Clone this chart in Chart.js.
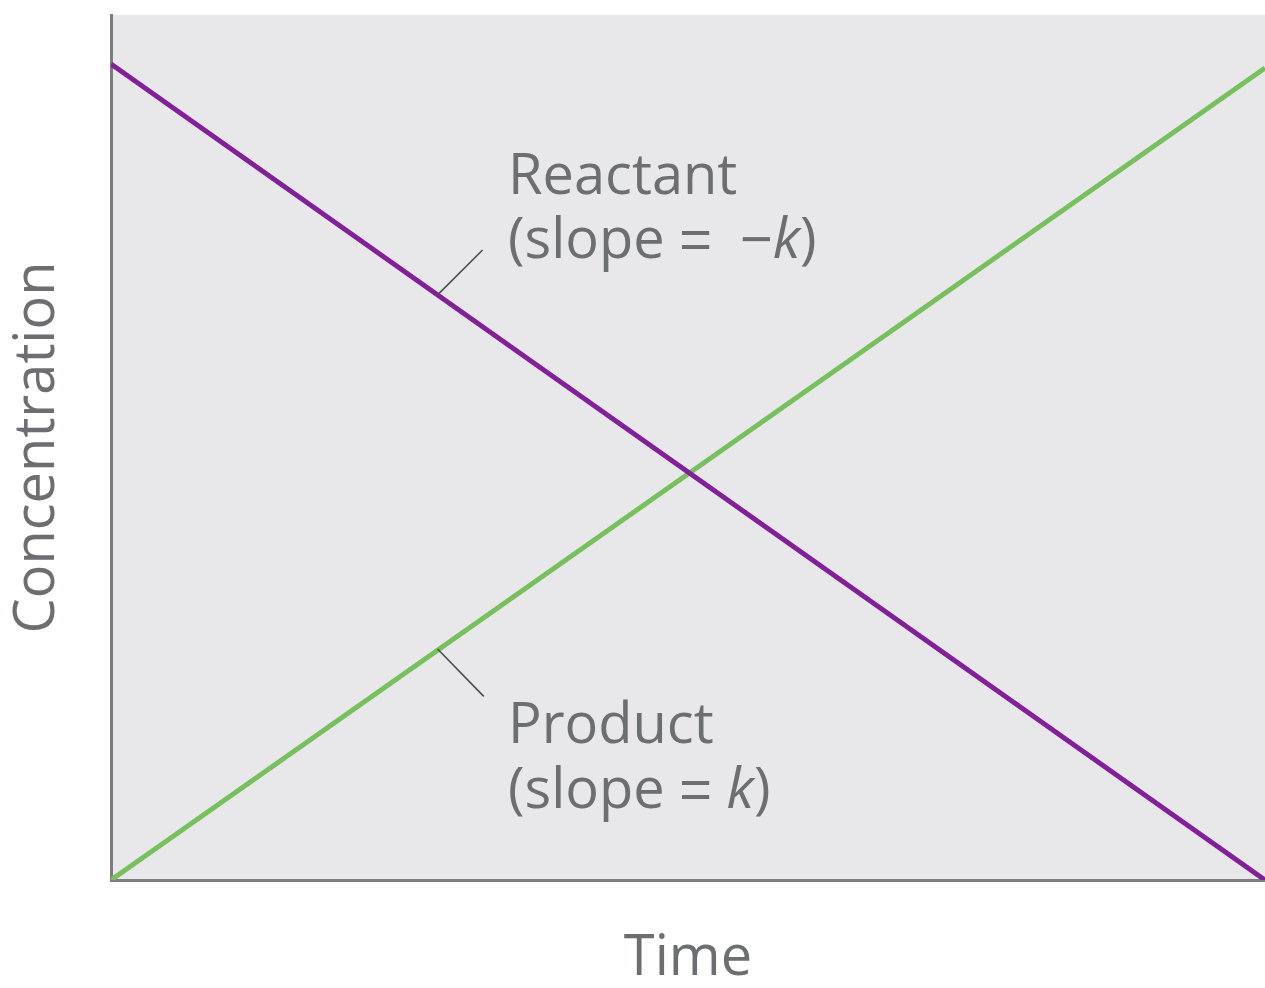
<!DOCTYPE html>
<html>
<head>
<meta charset="utf-8">
<script src="https://cdn.jsdelivr.net/npm/chart.js@4"></script>
<style>
  html, body { margin: 0; padding: 0; background: #fff; }
  #wrap { width: 1265px; height: 988px; }
</style>
</head>
<body>
<div id="wrap"><canvas id="rateChart"></canvas></div>
<script>
// Zero-order reaction: concentration vs time
const timePoints = [0, 10];
const reactantValues = [10, 0];
const productValues = [0, 9.95];
const yMax = 10.6;

const textColor = "#6d6e71";
const fontFamily = "'Open Sans', 'Noto Sans', sans-serif";
const mathFamily = "'Liberation Sans', sans-serif";
const labelSize = 56;

// Callouts, placed in data units. run style: "" normal, "i" italic, "m" math symbol
const callouts = [
  {
    lines: [[["Reactant", ""]], [["(slope ", ""], ["=", "m"], ["\u2002", ""], ["\u2212", "m"], ["k", "i"], [")", ""]]],
    x: 3.44, y: [8.41, 7.62],
    leader: [[2.83, 7.17], [3.22, 7.72]],
  },
  {
    lines: [[["Product", ""]], [["(slope ", ""], ["=", "m"], [" ", ""], ["k", "i"], [")", ""]]],
    x: 3.44, y: [1.68, 0.88],
    leader: [[2.83, 2.83], [3.23, 2.25]],
  },
];

const plotBackground = {
  id: "plotBackground",
  beforeDraw(chart) {
    const { ctx, chartArea } = chart;
    ctx.save();
    ctx.fillStyle = "#e8e8ea";
    ctx.fillRect(chartArea.left, chartArea.top, chartArea.right - chartArea.left, chartArea.bottom - chartArea.top);
    ctx.restore();
  },
};

const calloutPlugin = {
  id: "callouts",
  afterDatasetsDraw(chart) {
    const { ctx, scales } = chart;
    const xs = scales.x, ys = scales.y;
    ctx.save();
    callouts.forEach((c) => {
      // leader line
      ctx.strokeStyle = "#4d4d4f";
      ctx.lineWidth = 1.6;
      ctx.beginPath();
      ctx.moveTo(xs.getPixelForValue(c.leader[0][0]), ys.getPixelForValue(c.leader[0][1]));
      ctx.lineTo(xs.getPixelForValue(c.leader[1][0]), ys.getPixelForValue(c.leader[1][1]));
      ctx.stroke();

      // text runs
      ctx.fillStyle = textColor;
      ctx.textBaseline = "alphabetic";
      ctx.textAlign = "left";
      c.lines.forEach((runs, i) => {
        let px = xs.getPixelForValue(c.x);
        const py = ys.getPixelForValue(c.y[i]);
        runs.forEach(([txt, style]) => {
          if (style === "m") ctx.font = labelSize + "px " + mathFamily;
          else ctx.font = (style === "i" ? "italic " : "") + labelSize + "px " + fontFamily;
          ctx.fillText(txt, px, py);
          px += ctx.measureText(txt).width;
        });
      });
    });
    ctx.restore();
  },
};

const ctx = document.getElementById("rateChart").getContext("2d");
const rateChart = new Chart(ctx, {
  type: "line",
  data: {
    datasets: [
      {
        label: "Reactant",
        data: timePoints.map((t, i) => ({ x: t, y: reactantValues[i] })),
        borderColor: "#82209a",
        borderWidth: 5,
        pointRadius: 0,
        tension: 0,
      },
      {
        label: "Product",
        data: timePoints.map((t, i) => ({ x: t, y: productValues[i] })),
        borderColor: "#78bf5e",
        borderWidth: 5,
        pointRadius: 0,
        tension: 0,
      },
    ],
  },
  options: {
    responsive: true,
    maintainAspectRatio: false,
    animation: false,
    layout: { padding: { top: 15, right: 0, left: 0, bottom: 0 } },
    plugins: {
      legend: { display: false },
      tooltip: { enabled: false },
    },
    scales: {
      x: {
        type: "linear",
        min: 0,
        max: 10,
        grid: { display: false },
        border: { display: true, color: "#7d7d80", width: 3 },
        ticks: { display: false },
        title: {
          display: true,
          text: "Time",
          color: textColor,
          font: { family: fontFamily, size: labelSize },
          padding: { top: 0, bottom: -5 },
        },
        afterFit(scale) { scale.height = 108; },
      },
      y: {
        min: 0,
        max: yMax,
        grid: { display: false },
        border: { display: true, color: "#7d7d80", width: 3 },
        ticks: { display: false },
        title: {
          display: true,
          text: "Concentration",
          color: textColor,
          font: { family: fontFamily, size: labelSize },
          padding: { top: 4, bottom: 0 },
        },
        afterFit(scale) { scale.width = 111; },
      },
    },
  },
  plugins: [plotBackground, calloutPlugin],
});
</script>
</body>
</html>
